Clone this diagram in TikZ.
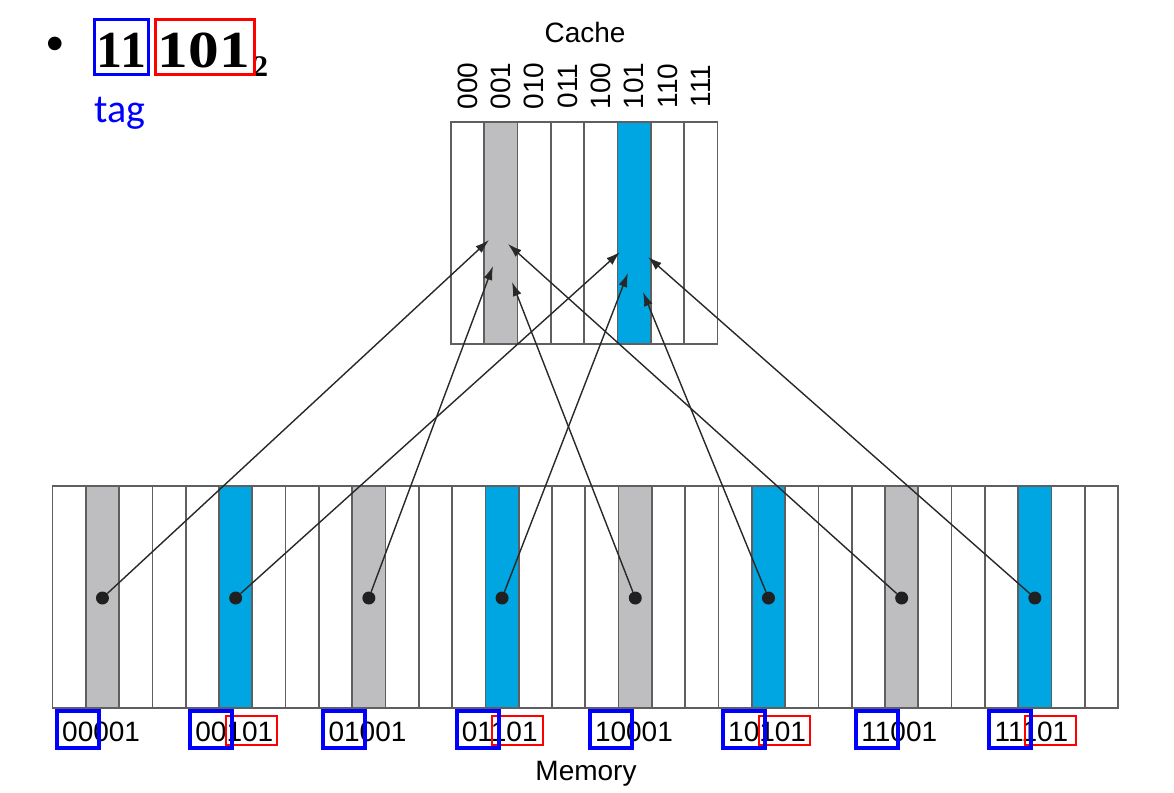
\documentclass[tikz,border=0pt]{standalone}
\usepackage{fontspec}
\setmainfont{Liberation Sans}
\newfontfamily\tagfont{Carlito}
\newfontfamily\numfont{Liberation Serif}
\usepackage{tikz}
\usetikzlibrary{
  arrows.meta,
  positioning,
}
\definecolor{cellgray}{RGB}{190,190,192}
\definecolor{cellblue}{RGB}{0,166,226}
\definecolor{cellline}{RGB}{95,95,95}
\definecolor{wire}{RGB}{40,40,40}
\tikzstyle{cell} = [
  line width=1.7pt,
  cellline,
]
\tikzstyle{map} = [
  -{Latex[length=14pt,width=9pt]},
  line width=1.4pt,
  wire,
]
\tikzstyle{dot} = [
  circle,
  fill=wire!80!black,
  inner sep=0,
  minimum size=13pt,
]
\tikzstyle{tagbox} = [draw=blue, line width=4pt]
\tikzstyle{idxbox} = [draw=red, line width=2pt]
\tikzstyle{addr} = [
  inner sep=0,
  font=\fontsize{28}{30}\selectfont,
]
\tikzstyle{bignum} = [
  inner sep=0,
  anchor=base,
  font=\numfont\bfseries\fontsize{52}{54}\selectfont,
]
\newcommand\cw{33.3}

\begin{document}
\begin{tikzpicture}[x=1pt, y=-1pt]
        \useasboundingbox (0,0) rectangle (1174,792);

        \fill [cellgray] (451+\cw,122) rectangle (451+2*\cw,344);
        \fill [cellblue] (451+5*\cw,122) rectangle (451+6*\cw,344);
        \draw [cell] (451,122) rectangle (451+8*\cw,344);
        \foreach \i in {1,...,7} {
          \draw [cell] (451+\i*\cw,122) -- (451+\i*\cw,344);
        }

        \foreach \b [count=\i from 0] in {000,001,010,011,100,101,110,111} {
          \node [addr, rotate=90] (b\b) at (451+\i*\cw+0.5*\cw, 86) {\b};
        }

        \node [addr, anchor=base] (cache) at (585,42) {Cache};

        \foreach \k/\c in {0/cellgray,1/cellblue,2/cellgray,3/cellblue,
                           4/cellgray,5/cellblue,6/cellgray,7/cellblue} {
          \fill [\c] (52.5+\k*4*\cw+\cw,486) rectangle (52.5+\k*4*\cw+2*\cw,708);
        }
        \draw [cell] (52.5,486) rectangle (52.5+32*\cw,708);
        \foreach \i in {1,...,31} {
          \draw [cell] (52.5+\i*\cw,486) -- (52.5+\i*\cw,708);
        }

        \foreach \k in {0,...,7} {
          \node [dot] (m\k) at (52.5+\k*4*\cw+1.5*\cw,598) {};
        }

        \coordinate (t0) at (489,240);
        \coordinate (t1) at (620,252);
        \coordinate (t2) at (493,266);
        \coordinate (t3) at (628,273);
        \coordinate (t4) at (512,282);
        \coordinate (t5) at (643,292);
        \coordinate (t6) at (508,244);
        \coordinate (t7) at (648,257);

        \foreach \k in {0,...,7} {
          \draw [map] (m\k) -- (t\k);
        }

        \foreach \k/\t in {0/00001,1/00101,2/01001,3/01101,
                           4/10001,5/10101,6/11001,7/11101} {
          \node [addr, anchor=base west] (a\t) at (52.5+\k*4*\cw+9.5,741) {\t};
        }
        \foreach \k in {1,3,5,7} {
          \draw [idxbox] (52.5+\k*4*\cw+40.3,716) rectangle +(51,29);
        }
        \foreach \k in {0,...,7} {
          \draw [tagbox] (52.5+\k*4*\cw+4.5,711) rectangle +(42,37);
        }

        \node [addr, anchor=base] (memory) at (586,780) {Memory};

        \node [inner sep=0, font=\fontsize{50}{52}\selectfont] (bullet) at (55,49) {•};
        \node [bignum] (tagbits) at (121.5,67) {11};
        \node [bignum, xscale=1.18] (indexbits) at (204,67) {101};
        \node [inner sep=0, anchor=base west, font=\numfont\bfseries\fontsize{30}{32}\selectfont]
              (radix) at (253,77) {2};
        \draw [draw=blue, line width=3pt] (94.5,19.5) rectangle (148.5,74.5);
        \draw [draw=red, line width=3pt] (155.5,19.5) rectangle (254.5,74.5);

        \node [inner sep=0, anchor=base west, text=blue, font=\tagfont\fontsize{40}{42}\selectfont]
              (tag) at (94,122) {tag};
      \end{tikzpicture}
\end{document}
